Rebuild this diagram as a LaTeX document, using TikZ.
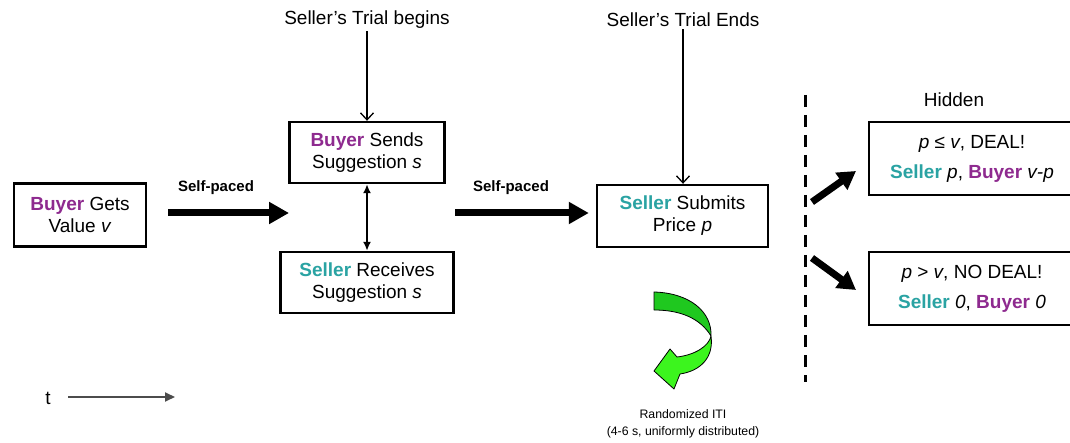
\documentclass[tikz,border=0pt]{standalone}
\usepackage{fontspec}
\setmainfont{Liberation Sans}
\usetikzlibrary{arrows.meta}
\definecolor{buyerc}{HTML}{8E2A8F}
\definecolor{sellerc}{HTML}{2AA3A3}
\definecolor{gback}{HTML}{1FC81F}
\definecolor{gfront}{HTML}{3CF51E}
\newcommand{\buyer}{{\color{buyerc}\bfseries Buyer}}
\newcommand{\seller}{{\color{sellerc}\bfseries Seller}}
\tikzset{
  box/.style={draw, line width=2.4pt, align=center, inner sep=0pt, font=\fontsize{19}{22}\selectfont},
  resbox/.style={box, font=\fontsize{19}{30}\selectfont, minimum width=206pt, minimum height=73pt},
  lbl/.style={font=\fontsize{19}{22}\selectfont, inner sep=2pt},
  paced/.style={font=\fontsize{15}{18}\selectfont\bfseries},
  iti/.style={font=\fontsize{12.3}{15}\selectfont},
  thinarrow/.style={line width=1.3pt, -{Straight Barb[length=7pt,width=13pt]}},
  dblarrow/.style={line width=1.8pt, {Latex[length=9pt,width=8pt]}-{Latex[length=9pt,width=8pt]}},
  bigarrow/.style={line width=7pt, -{Triangle[length=20pt,width=21pt]}},
  diagarrow/.style={line width=7pt, -{Triangle[length=18pt,width=20pt]}},
}
\begin{document}
\begin{tikzpicture}[x=1pt,y=-1pt]
\useasboundingbox (0,0) rectangle (1070,443);
\clip (0,0) rectangle (1070,443);
\fill[white] (0,0) rectangle (1070,443);

% boxes
\node[box, minimum width=132pt, minimum height=63pt] (B1) at (80,215) {\buyer{} Gets\\Value \textit{v}};
\node[box, minimum width=155pt, minimum height=61pt] (B2) at (367,152.5) {\buyer{} Sends\\Suggestion \textit{s}};
\node[box, minimum width=173pt, minimum height=61pt] (B3) at (367,282.5) {\seller{} Receives\\Suggestion \textit{s}};
\node[box, minimum width=171pt, minimum height=62pt] (B4) at (682.5,216) {\seller{} Submits\\Price \textit{p}};
\node[resbox] (B5) at (972,158.5) {\textit{p} ≤ \textit{v}, DEAL!\\\seller{} \textit{p}, \buyer{} \textit{v-p}};
\node[resbox] (B6) at (972,288.5) {\textit{p} > \textit{v}, NO DEAL!\\\seller{} \textit{0}, \buyer{} \textit{0}};

% labels
\node[lbl] (tb) at (367,20) {Seller’s Trial begins};
\node[lbl] (te) at (683,20) {Seller’s Trial Ends};
\node[lbl] (hid) at (954,100) {Hidden};
\node[paced] (sp1) at (216,188) {Self-paced};
\node[paced] (sp2) at (511,188) {Self-paced};
\node[iti] (iti1) at (683,414) {Randomized ITI};
\node[iti] (iti2) at (683,432) {(4-6 s, uniformly distributed)};
\node[lbl] (t) at (48,398) {t};

% thin arrows
\draw[thinarrow] (tb.south) -- (tb.south |- B2.north);
\draw[thinarrow] (te.south) -- (te.south |- B4.north);
\draw[dblarrow] (B2.south) -- (B3.north);

% thick arrows
\coordinate (a1s) at (168,213);
\coordinate (a1e) at (289,213);
\draw[bigarrow] (a1s) -- (a1e);
\coordinate (a2s) at (455,213);
\draw[bigarrow, shorten >=7pt] (a2s) -- (a2s -| B4.west);

% dashed separator
\coordinate (d1) at (805,95);
\coordinate (d2) at (805,382);
\draw[line width=3pt, dash pattern=on 12pt off 8pt] (d1) -- (d2);

% diagonal arrows
\coordinate (u1) at (812,202);
\coordinate (u2) at (856,171);
\coordinate (l1) at (812,258);
\coordinate (l2) at (856,290);
\draw[diagarrow] (u1) -- (u2);
\draw[diagarrow] (l1) -- (l2);

% time arrow
\coordinate (ts) at (68,397);
\coordinate (tend) at (175,397);
\draw[line width=1.8pt, black!70, -{Triangle[length=10pt,width=9pt]}] (ts) -- (tend);

% green curved arrow
\draw[line width=0.8pt, fill=gback, line join=round]
  (654,292) .. controls (690,293) and (712,312) .. (711,336)
  .. controls (700,318) and (680,310) .. (654,310) -- cycle;
\draw[line width=0.8pt, fill=gfront, line join=round]
  (711,336) .. controls (714,358) and (700,371) .. (680,374)
  -- (674,389) -- (654,371) -- (670,349) -- (677,357)
  .. controls (695,355) and (709,346) .. (711,336) -- cycle;
\end{tikzpicture}
\end{document}
